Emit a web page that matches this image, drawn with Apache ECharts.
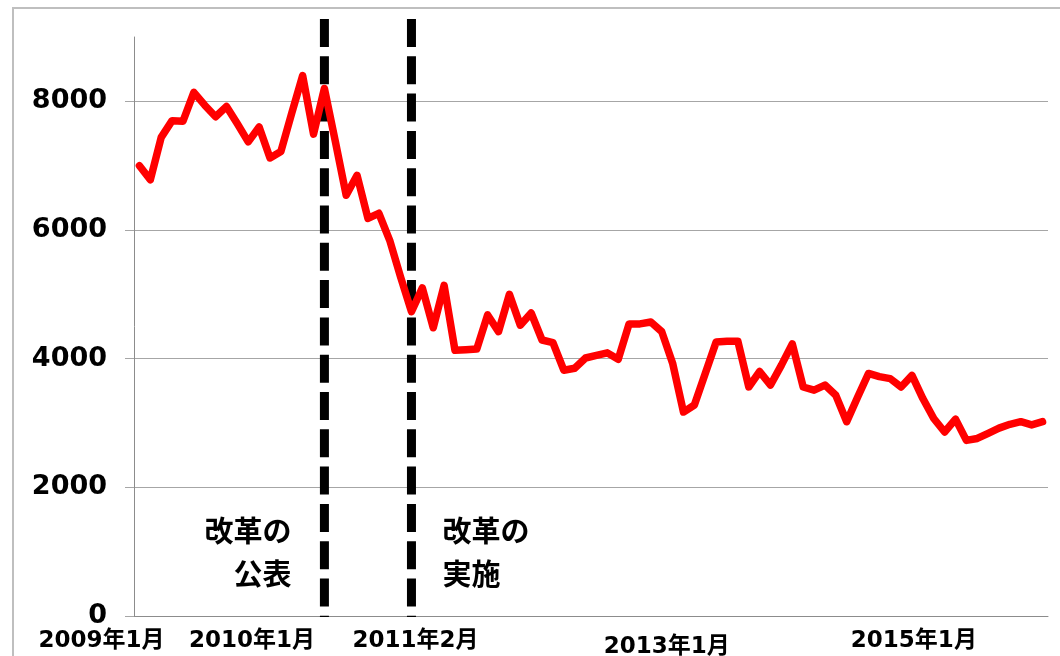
<!DOCTYPE html>
<html>
<head>
<meta charset="utf-8">
<script src="https://cdn.jsdelivr.net/npm/echarts@6/dist/echarts.min.js"></script>
<style>
html,body{margin:0;padding:0;background:#fff;}
#chart{width:1060px;height:656px;}
</style>
</head>
<body>
<div id="chart"></div>
<script>
// Monthly categories: 2009年1月 .. 2015年12月 (84 months)
const startYear = 2009, endYear = 2015;
const months = [];
for (let y = startYear; y <= endYear; y++) {
  for (let m = 1; m <= 12; m++) months.push(y + '年' + m + '月');
}

// Series values
const values = [
  7000, 6780, 7440, 7700, 7690, 8140, 7940, 7760, 7920, 7650, 7370, 7600,
  7120, 7220, 7820, 8400, 7490, 8200, 7380, 6540, 6850, 6180, 6260, 5840,
  5270, 4730, 5100, 4480, 5140, 4130, 4140, 4150, 4680, 4420, 5000, 4520,
  4710, 4290, 4250, 3820, 3850, 4010, 4050, 4090, 3990, 4540, 4540, 4570,
  4420, 3930, 3170, 3280, 3770, 4260, 4270, 4270, 3560, 3800, 3590, 3900,
  4230, 3560, 3510, 3590, 3430, 3020, 3400, 3770, 3720, 3690, 3560, 3740,
  3380, 3070, 2860, 3060, 2730, 2760, 2840, 2920, 2980, 3020, 2970, 3020
];

// Tick labels on the x axis
const xTickLabels = ['2009年1月', '2010年1月', '2011年2月', '2013年1月', '2015年1月'];
const yTickValues = [0, 2000, 4000, 6000, 8000];

// Event markers
const eventMonths = ['2010年6月', '2011年2月'];
const eventLabels = [['改革の', '公表'], ['改革の', '実施']];

const chart = echarts.init(document.getElementById('chart'));
const option = {
  animation: false,
  backgroundColor: '#ffffff',
  grid: { left: 134, right: 12, top: 37, bottom: 40, containLabel: false },
  xAxis: {
    type: 'category',
    data: months,
    boundaryGap: true,
    axisLine: { show: true, lineStyle: { color: '#8c8c8c', width: 1 } },
    axisTick: { show: false },
    axisLabel: { show: false },
    splitLine: { show: false }
  },
  yAxis: {
    type: 'value',
    min: 0,
    max: 9000,
    interval: 2000,
    axisLine: { show: true, lineStyle: { color: '#8c8c8c', width: 1 } },
    axisTick: { show: true, length: 9, customValues: yTickValues, lineStyle: { color: '#a6a6a6', width: 1 } },
    axisLabel: {
      margin: 27,
      fontSize: 27,
      fontWeight: 'bold',
      color: '#000',
      fontFamily: 'DejaVu Sans, Verdana, sans-serif',
      formatter: function (v) { return yTickValues.indexOf(v) >= 0 ? String(v) : ''; }
    },
    splitLine: { show: true, lineStyle: { color: '#a6a6a6', width: 1.2 } }
  },
  series: [{
    type: 'line',
    data: values,
    showSymbol: false,
    symbol: 'none',
    z: 5,
    lineStyle: { color: '#ff0000', width: 7.5, join: 'round', cap: 'round' },
    itemStyle: { color: '#ff0000' }
  }]
};
chart.setOption(option);

// Build overlay elements positioned through the chart's own scales
const shiftX = [-38, -18, 4, 5, -9];
const shiftY = [0, 0, 0, 6, 0];
const graphics = [];
graphics.push({
  type: 'rect', silent: true, z: 0,
  shape: { x: 13, y: 8, width: 1100, height: 700 },
  style: { fill: null, stroke: '#bfbfbf', lineWidth: 2 }
});
const baseY = chart.convertToPixel({ yAxisIndex: 0 }, 0);
xTickLabels.forEach(function (lab, i) {
  const px = chart.convertToPixel({ xAxisIndex: 0 }, lab);
  graphics.push({
    type: 'text', silent: true, z: 10,
    x: px + shiftX[i], y: baseY + 25 + shiftY[i],
    style: {
      text: lab, fill: '#000', align: 'center', verticalAlign: 'middle',
      font: 'bold 23px "DejaVu Sans", "Noto Sans CJK JP", sans-serif'
    }
  });
});
eventMonths.forEach(function (m, i) {
  const px = chart.convertToPixel({ xAxisIndex: 0 }, m);
  graphics.push({
    type: 'line', silent: true, z: 1,
    shape: { x1: px, y1: 19, x2: px, y2: baseY + 1 },
    style: { stroke: '#000', lineWidth: 9, lineDash: [28, 9.3], lineCap: 'butt' }
  });
  const left = i === 0;
  const tx = left ? px - 33 : px + 31;
  eventLabels[i].forEach(function (t, k) {
    graphics.push({
      type: 'text', silent: true, z: 10,
      x: tx, y: 531 + k * 43,
      style: {
        text: t, fill: '#000', align: left ? 'right' : 'left', verticalAlign: 'middle',
        font: 'bold 29px "Noto Sans CJK JP", sans-serif'
      }
    });
  });
});
chart.setOption({ graphic: { elements: graphics } });
</script>
</body>
</html>
